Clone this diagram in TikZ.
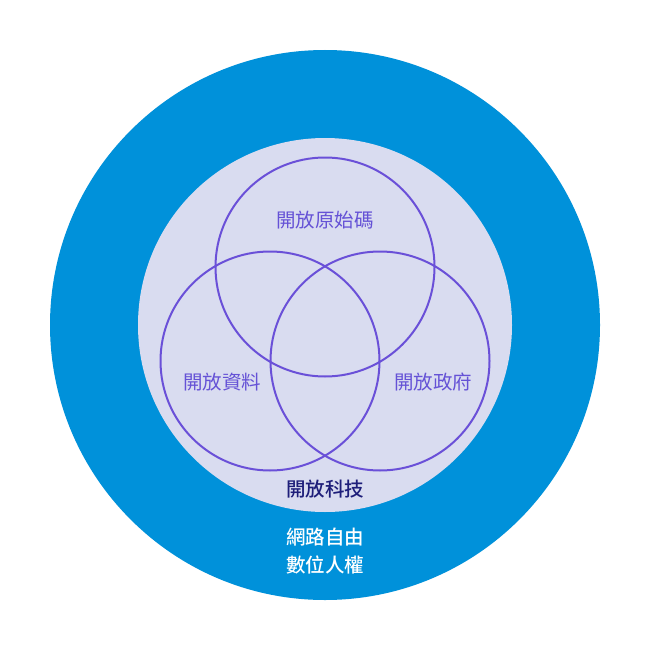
\documentclass[tikz,border=0pt]{standalone}
\usepackage{fontspec}
\newfontfamily\cjk{Noto Sans CJK TC}
\newfontfamily\cjkmed{Noto Sans CJK TC Medium}
\definecolor{outerblue}{HTML}{0091DA}
\definecolor{innerbg}{HTML}{D9DCF0}
\definecolor{ringcol}{HTML}{6A50D8}
\definecolor{labelcol}{HTML}{6552D6}
\definecolor{navy}{HTML}{1E1E7A}
\begin{document}
\begin{tikzpicture}[x=1pt,y=-1pt,
  ring/.style={draw=ringcol,line width=2pt},
  lbl/.style={font=\cjk\fontsize{19.5}{22}\selectfont,text=labelcol,inner sep=0pt},
  bold/.style={font=\cjkmed\fontsize{19.5}{28}\selectfont,inner sep=0pt,align=center}]
\useasboundingbox (0,0) rectangle (650,650);
\fill[white] (0,0) rectangle (650,650);
\node[circle,fill=outerblue,minimum size=550pt,inner sep=0pt] (outer) at (325,325) {};
\node[circle,fill=innerbg,minimum size=374pt,inner sep=0pt] (inner) at (325,325) {};
\node[circle,ring,minimum size=219pt,inner sep=0pt] (code) at (325,267) {};
\node[circle,ring,minimum size=219pt,inner sep=0pt] (data) at (270,361) {};
\node[circle,ring,minimum size=219pt,inner sep=0pt] (gov) at (380,361) {};
\node[lbl] (tcode) at (325,220) {開放原始碼};
\node[lbl] (tdata) at (222,382) {開放資料};
\node[lbl] (tgov) at (433,382) {開放政府};
\node[bold,text=navy] (ttech) at (325,489) {開放科技};
\node[bold,text=white] (trights) at (325,551) {網路自由\\數位人權};
\end{tikzpicture}
\end{document}
